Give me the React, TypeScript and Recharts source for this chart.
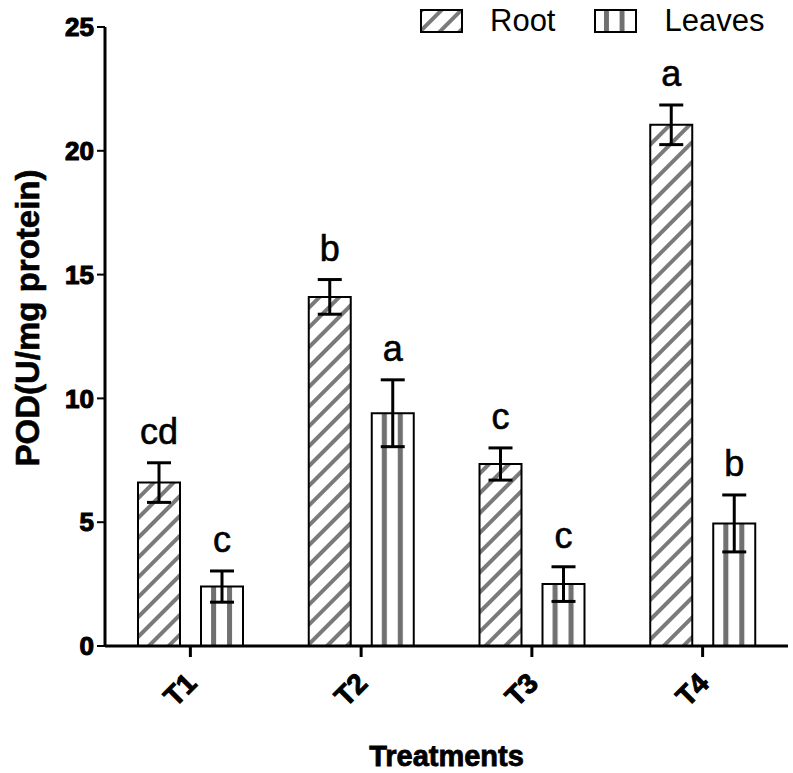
import React from "react";
import { BarChart, Bar, XAxis, YAxis, ErrorBar, LabelList, Legend } from "recharts";

const treatments = ["T1", "T2", "T3", "T4"];
const rootPod = [6.6, 14.1, 7.35, 21.05];
const rootSem = [0.8, 0.7, 0.65, 0.8];
const leavesPod = [2.4, 9.4, 2.5, 4.95];
const leavesSem = [0.63, 1.35, 0.7, 1.15];
const rootLetters = ["cd", "b", "c", "a"];
const leavesLetters = ["c", "a", "c", "b"];
const yTicks = [0, 5, 10, 15, 20, 25];
const seriesOrder = ["root", "leaves"];

const FONT = "'Liberation Sans', Arial, sans-serif";

const data = treatments.map((t, i) => ({
  name: t,
  root: rootPod[i],
  rootErr: rootSem[i],
  rootLetter: rootLetters[i],
  leaves: leavesPod[i],
  leavesErr: leavesSem[i],
  leavesLetter: leavesLetters[i],
}));

// letter sits above the error bar cap
function letterLabel(values: number[], errs: number[]) {
  return (props: any) => {
    const vb = props.viewBox && props.viewBox.width != null ? props.viewBox : props;
    const { x, y, width, height } = vb;
    const i = props.index;
    const perUnit = height / values[i];
    const top = y - errs[i] * perUnit;
    return (
      <text
        x={x + width / 2}
        y={top - 19}
        textAnchor="middle"
        fontSize={36}
        fontFamily={FONT}
        fill="#000"
        stroke="#000"
        strokeWidth={0.6}
      >
        {props.value}
      </text>
    );
  };
}

const XTick = (props: any) => {
  const { x, y, payload } = props;
  const ax = x + 8;
  const ay = y + 26;
  return (
    <text
      x={ax}
      y={ay}
      transform={`rotate(-45, ${ax}, ${ay})`}
      textAnchor="end"
      fontSize={28}
      fontWeight={700}
      fontFamily={FONT}
      fill="#000"
      stroke="#000"
      strokeWidth={1}
    >
      {payload.value}
    </text>
  );
};

const Swatch = ({ kind }: { kind: string }) => (
  <svg width={43} height={24} style={{ display: "block" }}>
    <defs>
      <pattern id="lg-hatch" width={14} height={14} patternUnits="userSpaceOnUse" patternTransform="rotate(45)">
        <rect x={0} y={0} width={14} height={14} fill="#fff" />
        <rect x={0} y={0} width={4} height={14} fill="#7a7a7a" />
      </pattern>
      <pattern id="lg-stripes" width={1} height={1} patternUnits="objectBoundingBox" patternContentUnits="objectBoundingBox">
        <rect x={0} y={0} width={1} height={1} fill="#fff" />
        <rect x={0.22} y={0} width={0.12} height={1} fill="#707070" />
        <rect x={0.6} y={0} width={0.12} height={1} fill="#707070" />
      </pattern>
    </defs>
    <rect
      x={1}
      y={1}
      width={41}
      height={22}
      fill={kind === "root" ? "url(#lg-hatch)" : "url(#lg-stripes)"}
      stroke="#000"
      strokeWidth={2}
    />
  </svg>
);

const LegendContent = (props: any) => {
  const items = [...(props.payload || [])].sort(
    (a: any, b: any) => seriesOrder.indexOf(a.dataKey) - seriesOrder.indexOf(b.dataKey)
  );
  return (
    <div style={{ display: "flex", alignItems: "center", fontFamily: FONT, fontSize: 31, color: "#000" }}>
      {items.map((it: any, i: number) => (
        <div key={it.dataKey} style={{ display: "flex", alignItems: "center", marginRight: i === 0 ? 39 : 0 }}>
          <Swatch kind={it.dataKey} />
          <span style={{ marginLeft: 27, lineHeight: "34px" }}>{it.value}</span>
        </div>
      ))}
    </div>
  );
};

export default function App() {
  return (
    <div style={{ position: "absolute", left: 0, top: 0, width: 793, height: 773, background: "#fff" }}>
      <BarChart
        width={793}
        height={773}
        data={data}
        margin={{ top: 27, right: 5, left: 0, bottom: 0 }}
        barSize={42}
        barGap={21}
      >
        <defs>
          <pattern id="hatch" width={14} height={14} patternUnits="userSpaceOnUse" patternTransform="rotate(45)">
            <rect x={0} y={0} width={14} height={14} fill="#fff" />
            <rect x={0} y={0} width={4} height={14} fill="#7a7a7a" />
          </pattern>
          <pattern id="stripes" width={1} height={1} patternUnits="objectBoundingBox" patternContentUnits="objectBoundingBox">
            <rect x={0} y={0} width={1} height={1} fill="#fff" />
            <rect x={0.24} y={0} width={0.12} height={1} fill="#707070" />
            <rect x={0.62} y={0} width={0.12} height={1} fill="#707070" />
          </pattern>
        </defs>
        <XAxis
          dataKey="name"
          height={127}
          axisLine={{ stroke: "#000", strokeWidth: 3 }}
          tickLine={{ stroke: "#000", strokeWidth: 3 }}
          tickSize={11}
          tickMargin={2}
          tick={<XTick />}
          interval={0}
          label={{
            value: "Treatments",
            position: "insideBottom",
            offset: 7,
            fontSize: 29,
            fontWeight: 700,
            fontFamily: FONT,
            fill: "#000",
            stroke: "#000",
            strokeWidth: 0.8,
          }}
        />
        <YAxis
          width={105}
          domain={[0, 25]}
          ticks={yTicks}
          interval={0}
          axisLine={{ stroke: "#000", strokeWidth: 3 }}
          tickLine={{ stroke: "#000", strokeWidth: 2 }}
          tickSize={8}
          tickMargin={3}
          tick={{ fill: "#000", fontSize: 26, fontWeight: 700, fontFamily: FONT, stroke: "#000", strokeWidth: 1.1 }}
          label={{
            value: "POD(U/mg protein)",
            content: () => (
              <text
                x={39}
                y={318}
                transform="rotate(-90, 39, 318)"
                textAnchor="middle"
                fontSize={33}
                fontWeight={700}
                fontFamily={FONT}
                fill="#000"
                stroke="#000"
                strokeWidth={0.6}
              >
                POD(U/mg protein)
              </text>
            ),
          }}
        />
        <Legend
          verticalAlign="middle"
          align="center"
          layout="horizontal"
          wrapperStyle={{ top: 4, left: 420, width: 373, height: 34 }}
          content={<LegendContent />}
        />
        <Bar dataKey="root" name="Root" fill="url(#hatch)" stroke="#000" strokeWidth={2} isAnimationActive={false}>
          <ErrorBar dataKey="rootErr" width={12} stroke="#000" strokeWidth={3} direction="y" />
          <LabelList dataKey="rootLetter" content={letterLabel(rootPod, rootSem)} />
        </Bar>
        <Bar dataKey="leaves" name="Leaves" fill="url(#stripes)" stroke="#000" strokeWidth={2} isAnimationActive={false}>
          <ErrorBar dataKey="leavesErr" width={12} stroke="#000" strokeWidth={3} direction="y" />
          <LabelList dataKey="leavesLetter" content={letterLabel(leavesPod, leavesSem)} />
        </Bar>
      </BarChart>
    </div>
  );
}
